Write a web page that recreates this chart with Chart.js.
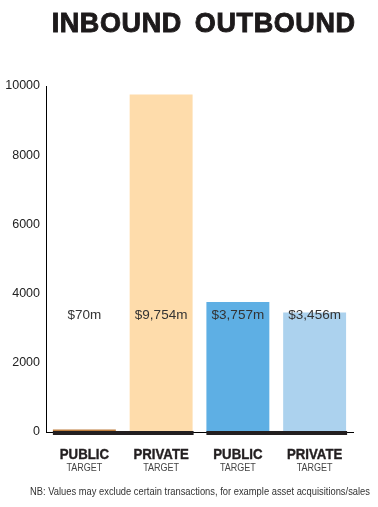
<!DOCTYPE html>
<html><head><meta charset="utf-8">
<script src="https://cdn.jsdelivr.net/npm/chart.js@4/dist/chart.umd.min.js"></script>
<style>html,body{margin:0;padding:0;background:#fff}#wrap{width:378px;height:507px}</style>
</head><body><div id="wrap"><canvas id="c" width="378" height="507"></canvas></div>
<script>
const categories = ["PUBLIC", "PRIVATE", "PUBLIC", "PRIVATE"];
const subLabels = ["TARGET", "TARGET", "TARGET", "TARGET"];
const values = [70, 9754, 3757, 3456];
const groupTitles = ["INBOUND", "OUTBOUND"];
const groupMembers = [[0, 1], [2, 3]];
const yTicks = [0, 2000, 4000, 6000, 8000, 10000];
const barColors = ["#bd7d3c", "#fedcab", "#5eafe4", "#acd2ee"];
const footnote = "NB: Values may exclude certain transactions, for example asset acquisitions/sales";

const fmt = v => "$" + v.toLocaleString("en-US") + "m";

function squeezed(ctx, text, x, y, sx, stroke) {
  ctx.save();
  ctx.translate(x, y);
  ctx.scale(sx, 1);
  ctx.fillText(text, 0, 0);
  if (stroke) { ctx.strokeStyle = ctx.fillStyle; ctx.lineWidth = stroke; ctx.strokeText(text, 0, 0); }
  ctx.restore();
}

const deco = {
  id: "deco",
  afterDatasetsDraw(chart) {
    const ctx = chart.ctx, ys = chart.scales.y;
    const meta = chart.getDatasetMeta(0);
    const y0 = ys.getPixelForValue(0);
    ctx.save();
    // thick baselines per group
    ctx.fillStyle = "#231f20";
    groupMembers.forEach(g => {
      const a = meta.data[g[0]], b = meta.data[g[g.length - 1]];
      const l = a.x - a.width / 2, r = b.x + b.width / 2 + 1;
      ctx.fillRect(l, y0 - 1, r - l, 4);
    });
    // value labels
    ctx.fillStyle = "#333";
    ctx.font = "13.5px 'Liberation Sans', Arial, sans-serif";
    ctx.textAlign = "center";
    ctx.textBaseline = "middle";
    meta.data.forEach((bar, i) => {
      ctx.fillText(fmt(values[i]), bar.x, ys.getPixelForValue(3380));
    });
    // category labels
    meta.data.forEach((bar, i) => {
      ctx.fillStyle = "#231f20";
      ctx.font = "bold 15px 'Liberation Sans', Arial, sans-serif";
      squeezed(ctx, categories[i], bar.x, 455, 0.88, 0.4);
      ctx.fillStyle = "#444";
      ctx.font = "11px 'Liberation Sans', Arial, sans-serif";
      squeezed(ctx, subLabels[i], bar.x, 467.5, 0.82);
    });
    // group titles
    ctx.fillStyle = "#1d1a1b";
    ctx.strokeStyle = "#1d1a1b";
    ctx.lineWidth = 0.9;
    ctx.font = "bold 27px 'Liberation Sans', Arial, sans-serif";
    ctx.letterSpacing = "0.6px";
    const offs = [-6, -1];
    groupMembers.forEach((g, k) => {
      const a = meta.data[g[0]], b = meta.data[g[g.length - 1]];
      const cx = ((a.x - a.width / 2) + (b.x + b.width / 2)) / 2 + offs[k];
      ctx.fillText(groupTitles[k], cx, 25);
      ctx.strokeText(groupTitles[k], cx, 25);
    });
    ctx.letterSpacing = "0px";
    // footnote
    ctx.fillStyle = "#333";
    ctx.font = "10.5px 'Liberation Sans', Arial, sans-serif";
    const w = ctx.measureText(footnote).width;
    squeezed(ctx, footnote, 200, 492, 340 / w);
    ctx.restore();
  }
};

new Chart(document.getElementById("c"), {
  type: "bar",
  data: {
    labels: categories,
    datasets: [{
      data: values,
      backgroundColor: barColors,
      borderWidth: 0,
      barPercentage: 0.82,
      categoryPercentage: 1.0
    }]
  },
  options: {
    responsive: false,
    animation: false,
    events: [],
    layout: { padding: { top: 86, right: 25, bottom: 67, left: 0 } },
    plugins: { legend: { display: false }, tooltip: { enabled: false }, title: { display: false } },
    scales: {
      x: {
        grid: { display: false },
        border: { display: true, color: "#000", width: 1 },
        ticks: { display: false }
      },
      y: {
        min: 0, max: 10000,
        afterBuildTicks: s => { s.ticks = yTicks.map(v => ({ value: v })); },
        afterFit: s => { s.width = 46; },
        grid: { display: false, drawTicks: false },
        border: { display: true, color: "#000", width: 1 },
        ticks: {
          padding: 6,
          color: "#222",
          callback: v => String(v),
          font: { family: "'Liberation Sans', Arial, sans-serif", size: 12.5 }
        }
      }
    }
  },
  plugins: [deco]
});
</script>
</body></html>
